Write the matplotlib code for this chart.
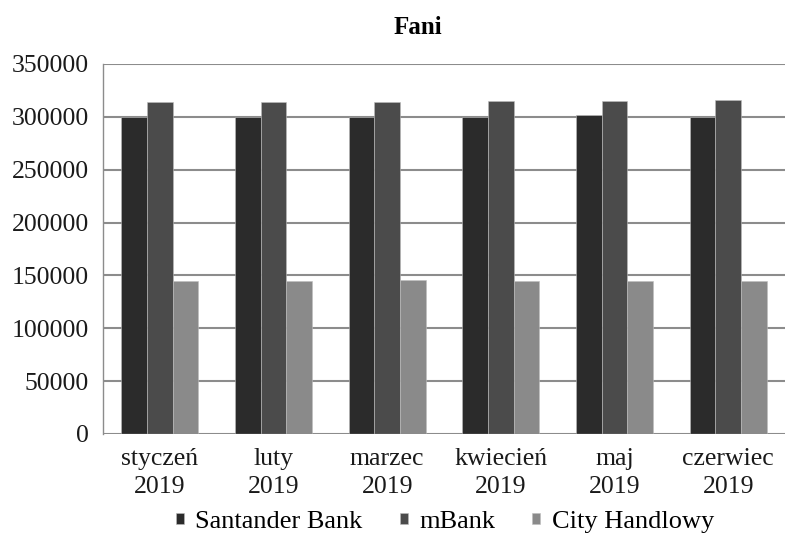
import matplotlib
matplotlib.use("Agg")
import matplotlib.pyplot as plt
import numpy as np

months = ["styczeń\n2019", "luty\n2019", "marzec\n2019", "kwiecień\n2019", "maj\n2019", "czerwiec\n2019"]
santander = [300000, 300000, 300000, 300000, 302000, 300000]
mbank = [314000, 314000, 314000, 315000, 315000, 316000]
city = [145000, 145000, 146000, 145000, 145000, 145000]
series_names = ["Santander Bank", "mBank", "City Handlowy"]
colors = ["#2b2b2b", "#4b4b4b", "#8a8a8a"]

plt.rcParams["font.family"] = ["Liberation Serif", "DejaVu Serif"]

fig = plt.figure(figsize=(7.91, 5.36), dpi=100)
ax = fig.add_axes([103 / 791, 1 - 434 / 536, (785 - 103) / 791, (434 - 64) / 536])

x = np.arange(len(months))
w = 0.225
for i, (vals, name, c) in enumerate(zip([santander, mbank, city], series_names, colors)):
    ax.bar(x + (i - 1) * w, vals, width=w, color=c, label=name,
           edgecolor="#bdbdbd", linewidth=0.4, zorder=3)

ax.set_xlim(-0.5, len(months) - 0.5)
ax.set_ylim(0, 350000)
ax.set_yticks(np.arange(0, 350001, 50000))
ax.set_xticks(x)
ax.set_xticklabels(months, linespacing=1.35)
ax.yaxis.grid(True, color="#8c8c8c", linewidth=1.5, zorder=0)
ax.tick_params(axis="both", labelsize=18.5, length=0, colors="#1a1a1a")
ax.tick_params(axis="y", pad=10)
ax.tick_params(axis="x", pad=10)
for s in ["top", "right", "bottom"]:
    ax.spines[s].set_visible(False)
ax.spines["left"].set_color("#8c8c8c")
ax.spines["left"].set_linewidth(1.0)
ax.axhline(0, color="#8c8c8c", linewidth=1.0, zorder=4)

fig.text(418 / 791, 1 - 28 / 536, "Fani", ha="center", va="center", fontsize=18, fontweight="bold")

leg = fig.legend(loc="center", bbox_to_anchor=(445 / 791, 1 - 522 / 536), ncol=3, frameon=False,
                 fontsize=19, handlelength=0.3, handleheight=0.3, handletextpad=0.45,
                 columnspacing=1.4, borderpad=0)

fig.savefig("out.png", dpi=100)
